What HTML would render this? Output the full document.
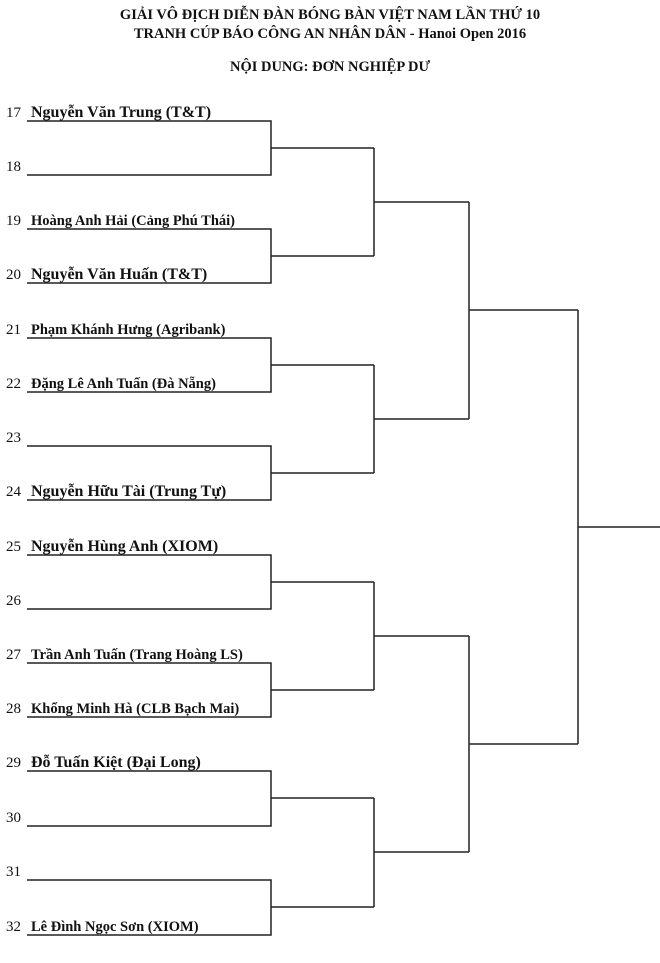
<!DOCTYPE html>
<html><head><meta charset="utf-8"><style>
html,body{margin:0;padding:0;background:#fff;width:660px;height:963px;overflow:hidden}
svg{display:block}
text{font-family:"Liberation Serif","DejaVu Serif",serif;fill:#111}
.t{font-weight:bold;font-size:14.5px}
.n{font-size:15px}
.b{font-weight:bold;font-size:16px}
.s{font-weight:bold;font-size:14.5px}
</style></head><body>
<svg width="660" height="963" xmlns="http://www.w3.org/2000/svg">
<text class="t" x="330" y="19" text-anchor="middle">GIẢI VÔ ĐỊCH DIỄN ĐÀN BÓNG BÀN VIỆT NAM LẦN THỨ 10</text>
<text class="t" x="330" y="38" text-anchor="middle">TRANH CÚP BÁO CÔNG AN NHÂN DÂN - Hanoi Open 2016</text>
<text class="t" x="330" y="71" text-anchor="middle">NỘI DUNG: ĐƠN NGHIỆP DƯ</text>
<g stroke="#222" stroke-width="1.5" fill="none">
<path d="M27 121H271V175H27M271 148H374"/>
<path d="M27 229H271V283H27M271 256H374"/>
<path d="M27 338H271V392H27M271 365H374"/>
<path d="M27 446H271V500H27M271 473H374"/>
<path d="M27 555H271V609H27M271 582H374"/>
<path d="M27 663H271V717H27M271 690H374"/>
<path d="M27 771H271V826H27M271 798H374"/>
<path d="M27 880H271V935H27M271 907H374"/>
<path d="M374 148V256M374 202H469"/>
<path d="M374 365V473M374 419H469"/>
<path d="M374 582V690M374 636H469"/>
<path d="M374 798V907M374 852H469"/>
<path d="M469 202V419M469 310H578"/>
<path d="M469 636V852M469 744H578"/>
<path d="M578 310V744M578 527H660"/>
</g>
<g class="n">
<text x="6" y="117">17</text><text x="6" y="171">18</text>
<text x="6" y="225">19</text><text x="6" y="279">20</text>
<text x="6" y="334">21</text><text x="6" y="388">22</text>
<text x="6" y="442">23</text><text x="6" y="496">24</text>
<text x="6" y="551">25</text><text x="6" y="605">26</text>
<text x="6" y="659">27</text><text x="6" y="713">28</text>
<text x="6" y="767">29</text><text x="6" y="822">30</text>
<text x="6" y="876">31</text><text x="6" y="931">32</text>
</g>
<text class="b" x="31" y="117">Nguyễn Văn Trung (T&amp;T)</text>
<text class="s" x="31" y="225">Hoàng Anh Hải (Cảng Phú Thái)</text>
<text class="b" x="31" y="279">Nguyễn Văn Huấn (T&amp;T)</text>
<text class="s" x="31" y="334">Phạm Khánh Hưng (Agribank)</text>
<text class="s" x="31" y="388">Đặng Lê Anh Tuấn (Đà Nẵng)</text>
<text class="b" x="31" y="496">Nguyễn Hữu Tài (Trung Tự)</text>
<text class="b" x="31" y="551">Nguyễn Hùng Anh (XIOM)</text>
<text class="s" x="31" y="659">Trần Anh Tuấn (Trang Hoàng LS)</text>
<text class="s" x="31" y="713">Khổng Minh Hà (CLB Bạch Mai)</text>
<text class="b" x="31" y="767">Đỗ Tuấn Kiệt (Đại Long)</text>
<text class="s" x="31" y="931">Lê Đình Ngọc Sơn (XIOM)</text>
</svg>
</body></html>
